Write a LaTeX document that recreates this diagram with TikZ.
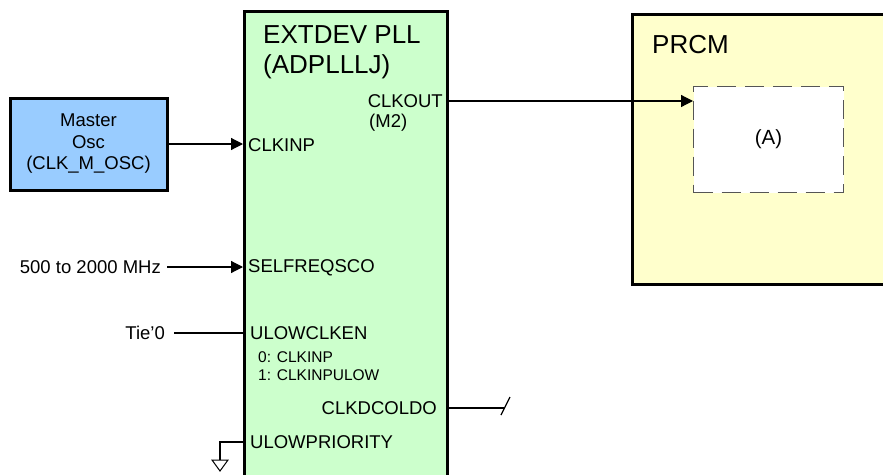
\documentclass[tikz,border=0pt]{standalone}
\usepackage{fontspec}
\setmainfont{Liberation Sans}
\usetikzlibrary{arrows.meta,positioning}
\definecolor{pllgreen}{HTML}{CCFFCC}
\definecolor{oscblue}{HTML}{99CCFF}
\definecolor{prcmyellow}{HTML}{FFFFCC}
\definecolor{dashgray}{HTML}{555555}

\tikzset{
  block/.style={draw=black, line width=3pt, inner sep=0pt},
  pinlbl/.style={inner sep=1pt, font=\fontsize{18.5}{21.5}\selectfont},
  smalllbl/.style={inner sep=1pt, font=\fontsize{15.5}{18.3}\selectfont, align=left},
  titlelbl/.style={inner sep=1pt, font=\fontsize{26}{30}\selectfont, align=left},
  wire/.style={line width=1.2pt},
  sig/.style={wire, -{Triangle[length=12pt,width=12pt]}},
}

\begin{document}
\begin{tikzpicture}[x=1pt, y=-1pt]
  \useasboundingbox (0,0) rectangle (883,474);
  \clip (0,0) rectangle (883,474);
  % blocks
  \node[block, fill=pllgreen, minimum width=203pt, minimum height=485pt, anchor=north west] (pll) at (243,10) {};
  \node[block, fill=prcmyellow, minimum width=300pt, minimum height=270pt, anchor=north west] (prcm) at (631,13) {};
  \node[block, fill=oscblue, minimum width=157pt, minimum height=92pt, align=center, pinlbl, inner sep=0pt] (osc) at (88.5,144) {Master\\Osc\\(CLK\_M\_OSC)};
  \node[draw=dashgray, line width=1pt, dash pattern=on 19pt off 9pt, fill=white, minimum width=150pt, minimum height=106pt, anchor=north west, inner sep=1pt, font=\fontsize{20.5}{24}\selectfont] (blocka) at (693,86) {(A)};
  % titles
  \node[titlelbl, anchor=west] (plltitle) at (262,52) {EXTDEV PLL\\(ADPLLLJ)};
  \node[titlelbl, anchor=west] (prcmtitle) at (651,45) {PRCM};
  % pins of the PLL
  \node[pinlbl, anchor=east] (clkout) at (444,101) {CLKOUT};
  \node[pinlbl, anchor=west] (m2) at (368,123) {(M2)};
  \node[pinlbl, anchor=west] (clkinp) at (247,145) {CLKINP};
  \node[pinlbl, anchor=west] (selfreq) at (247,268) {SELFREQSCO};
  \node[pinlbl, anchor=west] (ulowclken) at (249,333) {ULOWCLKEN};
  \node[smalllbl, anchor=west] (clkensel) at (257,366) {0: CLKINP\\1: CLKINPULOW};
  \node[pinlbl, anchor=east] (clkdco) at (438,408) {CLKDCOLDO};
  \node[pinlbl, anchor=west] (ulowprio) at (249,442) {ULOWPRIORITY};
  % outside inputs
  \node[pinlbl, anchor=east] (freq) at (162,267) {500 to 2000 MHz};
  \node[pinlbl, anchor=east] (tie) at (166,333) {Tie’0};
  % connectors
  \draw[sig] (osc.east) -- (osc.east -| pll.west);
  \draw[sig] ([xshift=5pt]freq.east) -- (freq.east -| pll.west);
  \draw[wire] ([xshift=8pt]tie.east) -- (tie.east -| pll.west);
  \draw[sig] (clkout.east -| pll.east) -- (clkout.east -| blocka.west);
  \coordinate (cut) at (505,408);
  \draw[wire] (clkdco.east -| pll.east) -- (cut);
  \draw[wire] ([shift={(-4,7)}]cut) -- ([shift={(5,-11)}]cut);
  \coordinate (gnd) at (220,460);
  \draw[wire] (ulowprio.west -| pll.west) -| (gnd);
  \draw[line width=1pt, fill=white] (gnd) ++(-8,0) -- ++(16,0) -- ++(-8,11) -- cycle;
\end{tikzpicture}
\end{document}
